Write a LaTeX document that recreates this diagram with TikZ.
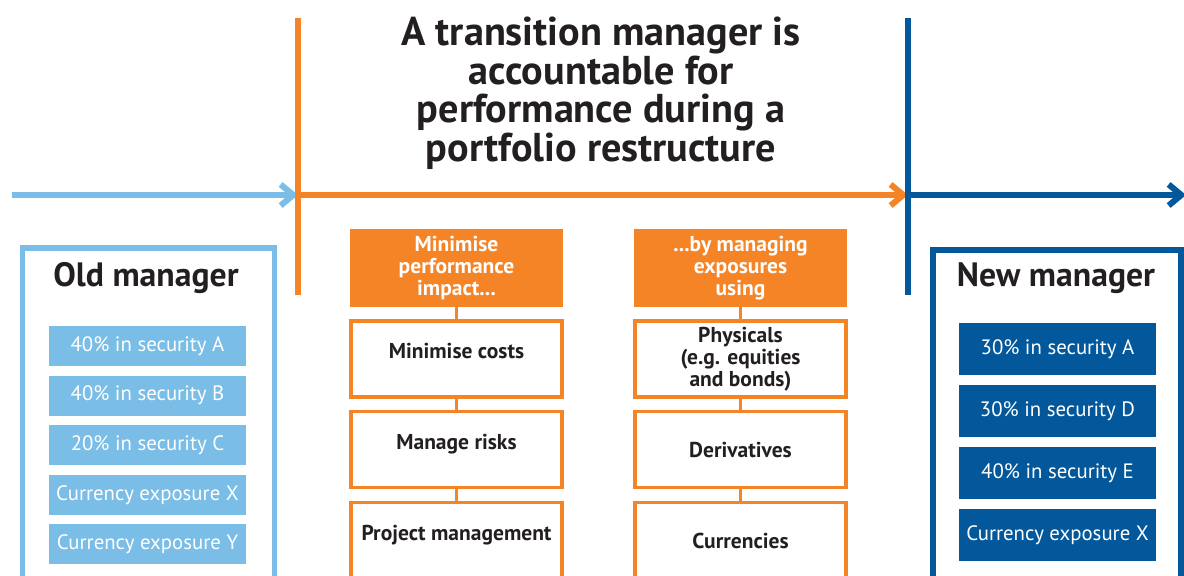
\documentclass[tikz,border=0pt]{standalone}
\usepackage{fontspec}
\setmainfont{PT Sans}
\usepackage{xcolor}
\usetikzlibrary{positioning,arrows.meta}

\definecolor{skyblue}{HTML}{7ABDE6}
\definecolor{tmorange}{HTML}{F58426}
\definecolor{navy}{HTML}{02589A}
\definecolor{ink}{HTML}{231F20}

\begin{document}
\begin{tikzpicture}[
  x=0.025cm, y=-0.025cm,
  node distance=2.25mm,
  headline/.style={font=\fontsize{28.6}{27.4}\selectfont\bfseries, text=ink, align=center},
  mgrtitle/.style={font=\fontsize{24}{26}\selectfont\bfseries, text=ink},
  mgrframe/.style={draw, line width=4pt, minimum width=62.9mm, minimum height=120mm,
                   anchor=north, inner sep=0pt},
  olditem/.style={fill=skyblue, text=white, minimum width=49.25mm, minimum height=10mm,
                  font=\fontsize{14.8}{16}\selectfont, inner sep=0pt},
  newitem/.style={olditem, fill=navy, minimum height=13.1mm},
  hdr/.style={fill=tmorange, text=white, font=\fontsize{15.3}{15.7}\selectfont\bfseries,
              align=center, minimum width=53.25mm, minimum height=19.5mm, inner sep=0pt},
  tbox/.style={draw=tmorange, line width=2.3pt, fill=white, text=ink,
               font=\fontsize{15.3}{15.7}\selectfont\bfseries, align=center,
               minimum width=52.75mm, minimum height=19mm, inner sep=0pt},
  upbox/.style={tbox, text height=3.6mm, text depth=3.6mm},
  link/.style={tmorange, line width=2.3pt},
  rail/.style={line width=4.3pt},
  flow/.style={rail, -{Straight Barb[length=9pt,width=15pt]}}
]
\useasboundingbox (0,0) rectangle (1184,575);
\clip (0,0) rectangle (1184,575);

% rails and flow arrows
\coordinate (lbstart) at (12,195);
\coordinate (otop) at (298,18);
\coordinate (ojoin) at (298,195);
\coordinate (obot) at (298,295);
\coordinate (btop) at (908,18);
\coordinate (bjoin) at (908,195);
\coordinate (bbot) at (908,295);
\coordinate (bend) at (1186,195);
\draw[flow, skyblue] (lbstart) -- (ojoin);
\draw[flow, tmorange] (ojoin) -- (bjoin);
\draw[rail, tmorange] (otop) -- (obot);
\draw[flow, navy] (bjoin) -- (bend);
\draw[rail, navy] (btop) -- (bbot);

\node[headline] (title) at (601,93)
  {A transition manager is\\ accountable for\\ performance during a\\ portfolio restructure};

% old manager
\node[mgrframe, draw=skyblue] (oldframe) at (148.5,245) {};
\node[mgrtitle] (oldname) at (146,278) {Old manager};
\node[olditem] (old1) at (147.5,346) {40\% in security A};
\node[olditem, below=of old1] (old2) {40\% in security B};
\node[olditem, below=of old2] (old3) {20\% in security C};
\node[olditem, below=of old3] (old4) {Currency exposure X};
\node[olditem, below=of old4] (old5) {Currency exposure Y};

% transition manager
\node[hdr] (hdrA) at (456.5,268) {Minimise\\ performance\\ impact...};
\node[upbox, below=3mm of hdrA] (costs) {Minimise costs};
\node[upbox, below=2.9mm of costs] (risks) {Manage risks};
\node[upbox, below=2.9mm of risks] (projmgmt) {Project management};
\draw[link] (hdrA) -- (costs);
\draw[link] (costs) -- (risks);
\draw[link] (risks) -- (projmgmt);

\node[hdr] (hdrB) at (740.5,268) {...by managing\\ exposures\\ using};
\node[tbox, below=3mm of hdrB] (phys) {Physicals\\ (e.g. equities\\ and bonds)};
\node[tbox, below=2.9mm of phys] (deriv) {Derivatives};
\node[tbox, below=2.9mm of deriv] (curr) {Currencies};
\draw[link] (hdrB) -- (phys);
\draw[link] (phys) -- (deriv);
\draw[link] (deriv) -- (curr);

% new manager
\node[mgrframe, draw=navy, minimum width=62.1mm] (newframe) at (1057,247) {};
\node[mgrtitle] (newname) at (1056,278) {New manager};
\node[newitem] (new1) at (1057.5,349) {30\% in security A};
\node[newitem, below=of new1] (new2) {30\% in security D};
\node[newitem, below=of new2] (new3) {40\% in security E};
\node[newitem, below=of new3] (new4) {Currency exposure X};
\end{tikzpicture}
\end{document}
